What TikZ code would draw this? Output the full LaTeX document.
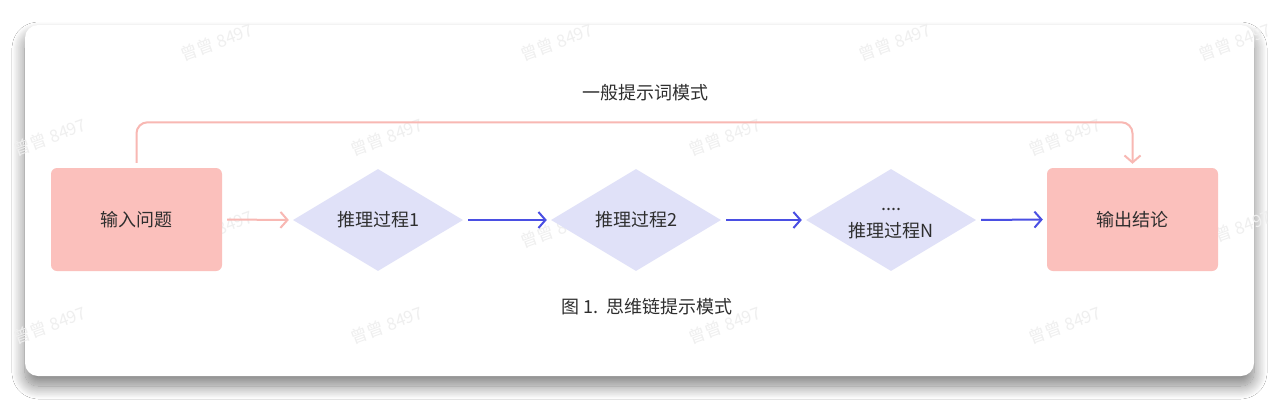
\documentclass[tikz,border=0pt]{standalone}
\usepackage{fontspec}
\setmainfont{Noto Sans CJK SC}
\usetikzlibrary{shapes.geometric,arrows.meta,shadows.blur}
\definecolor{boxpink}{HTML}{FBC0BC}
\definecolor{linepink}{HTML}{F8B8B3}
\definecolor{diafill}{HTML}{E0E1F8}
\definecolor{arrowblue}{HTML}{4A4FE3}
\definecolor{txt}{HTML}{2E2E2E}
\definecolor{wmark}{HTML}{EFEFEF}
\begin{document}
\begin{tikzpicture}[x=1pt,y=-1pt,
  endbox/.style={rectangle, rounded corners=6pt, fill=boxpink, minimum width=171pt, minimum height=103pt, inner sep=0pt, text=txt, font=\fontsize{18}{22}\selectfont},
  stepdia/.style={diamond, fill=diafill, minimum width=170pt, minimum height=102pt, inner sep=0pt, text=txt, align=center, font=\fontsize{18}{22}\selectfont},
  bluearrow/.style={draw=arrowblue, line width=2pt, -{Straight Barb[length=7pt,width=16pt]}, shorten <=5pt, shorten >=4pt},
  pinkarrow/.style={draw=linepink, line width=2pt, -{Straight Barb[length=7pt,width=16pt]}},
  label/.style={text=txt, inner sep=0pt, font=\fontsize{18}{22}\selectfont},
  wm/.style={text=wmark, rotate=20, inner sep=0pt, font=\fontsize{17}{20}\selectfont}
]
\useasboundingbox (0,0) rectangle (1280,410);
\fill[white] (0,0) rectangle (1280,410);
% card
\path[fill=white, rounded corners=13pt, blur shadow={shadow xshift=0pt, shadow yshift=-10pt, shadow blur radius=13pt, shadow opacity=50, shadow blur steps=20}] (25,25) rectangle (1254,376);
% watermarks
\foreach \wx/\wy [count=\i] in {217/42,557/42,895/42,1235/42,50/137,387/137,725/137,1065/137,217/229,557/229,895/229,1235/229,50/325,387/325,725/325,1065/325}{
  \node[wm] (w\i) at (\wx,\wy) {曾曾 8497};
}
% nodes
\node[endbox] (in) at (136.5,219.5) {输入问题};
\node[stepdia] (d1) at (378,220) {推理过程1};
\node[stepdia] (d2) at (636,220) {推理过程2};
\node[stepdia, inner sep=-30pt] (d3) at (891,220) {\raisebox{-7pt}{\begin{tabular}{@{}c@{}}....\\[5pt]推理过程N\end{tabular}}};
\node[endbox] (out) at (1132.5,219.5) {输出结论};
\node[label] (top) at (645,93) {一般提示词模式};
\node[label] (cap) at (647,307) {图 1.\ \ 思维链提示模式};
% connectors
\draw[pinkarrow, shorten <=5pt, shorten >=4pt] (in.east) -- (d1.west);
\draw[bluearrow] (d1.east) -- (d2.west);
\draw[bluearrow] (d2.east) -- (d3.west);
\draw[bluearrow] (d3.east) -- (out.west);
\draw[pinkarrow, rounded corners=11pt, shorten <=5pt, shorten >=4pt] (in.north) -- ++(0,-45.5) -| (out.north);
\end{tikzpicture}
\end{document}
